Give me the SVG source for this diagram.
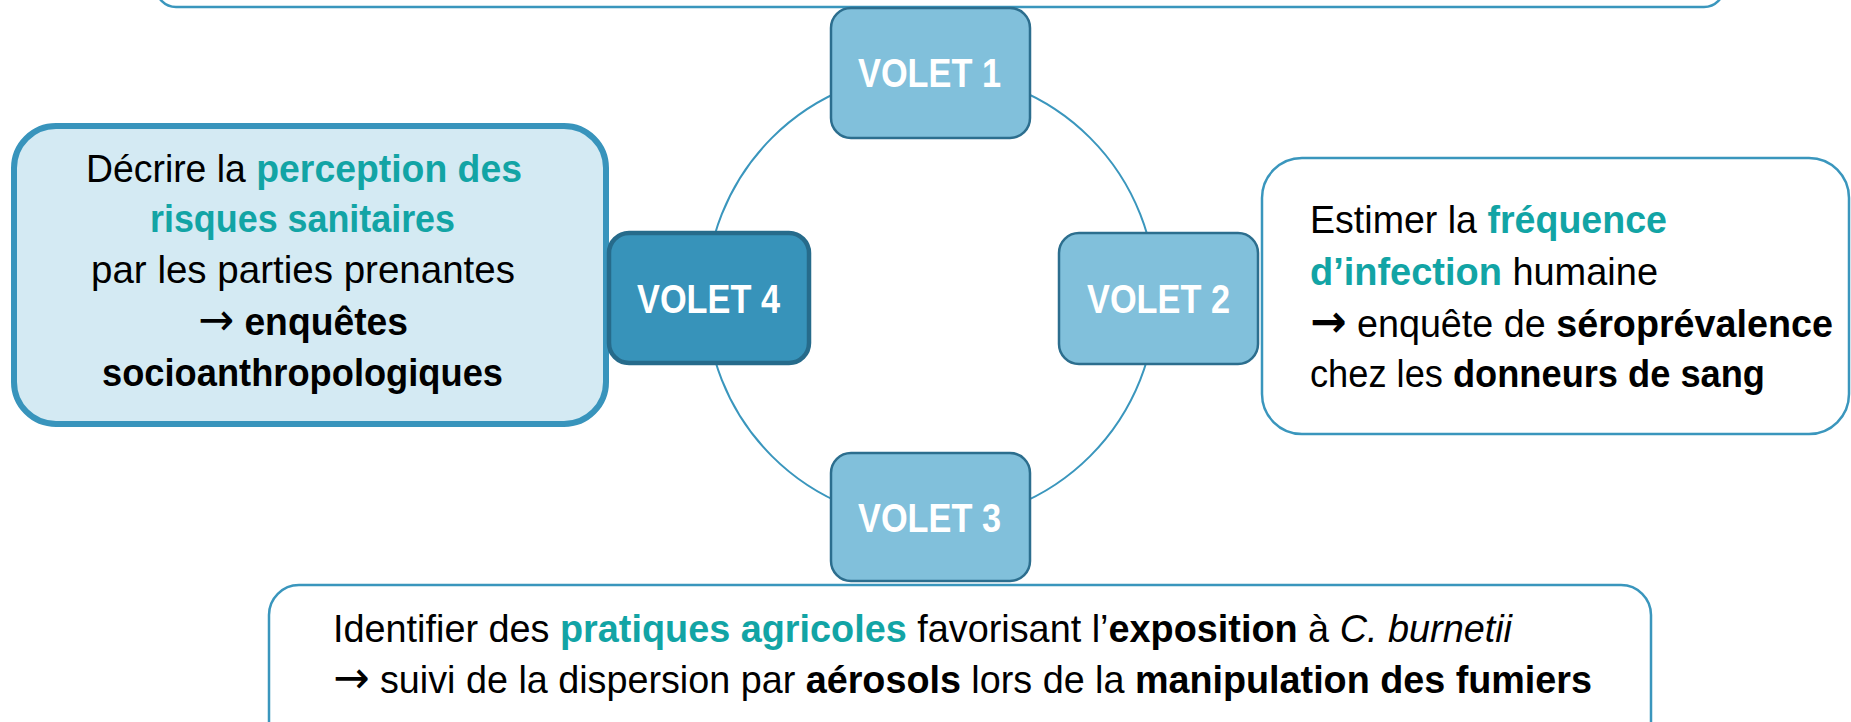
<svg xmlns="http://www.w3.org/2000/svg" width="1851" height="722" viewBox="0 0 1851 722">
<style>
  .t { font-family: "Liberation Sans", Arial, sans-serif; font-size: 39px; fill: #000; }
  .b { font-weight: bold; }
  .teal { fill: #12A4A5; font-weight: bold; }
  .i { font-style: italic; }
  .ar { font-family: "DejaVu Sans", sans-serif; font-size: 45px; }
  .vol { fill: #81C0DB; stroke: #2C6E8E; stroke-width: 2.5; }
  .vlabel { font-family: "Liberation Sans", Arial, sans-serif; font-size: 40px; font-weight: bold; fill: #fff; }
  .panel { fill: #fff; stroke: #3A96BD; stroke-width: 2.5; }
</style>

<g id="connectors">
  <circle cx="931" cy="297" r="225" fill="none" stroke="#3A96BD" stroke-width="2"/>
</g>

<g id="top-box">
  <rect class="panel" x="156" y="-60" width="1568" height="67" rx="20"/>
</g>

<g id="left-box">
  <rect x="14" y="126" width="592" height="298" rx="42" fill="#D4EAF3" stroke="#3894BC" stroke-width="6"/>
  <text class="t" x="86" y="182" textLength="436" lengthAdjust="spacingAndGlyphs">Décrire la <tspan class="teal">perception des</tspan></text>
  <text class="t teal" x="150" y="232" textLength="305" lengthAdjust="spacingAndGlyphs">risques sanitaires</text>
  <text class="t" x="91" y="283" textLength="424" lengthAdjust="spacingAndGlyphs">par les parties prenantes</text>
  <text class="t" x="198" y="335" textLength="210" lengthAdjust="spacingAndGlyphs"><tspan class="ar">→</tspan> <tspan class="b">enquêtes</tspan></text>
  <text class="t b" x="102" y="386" textLength="401" lengthAdjust="spacingAndGlyphs">socioanthropologiques</text>
</g>

<g id="right-box">
  <rect class="panel" x="1262" y="158" width="587" height="276" rx="40"/>
  <text class="t" x="1310" y="233" textLength="357" lengthAdjust="spacingAndGlyphs">Estimer la <tspan class="teal">fréquence</tspan></text>
  <text class="t" x="1310" y="285" textLength="348" lengthAdjust="spacingAndGlyphs"><tspan class="teal">d’infection</tspan> humaine</text>
  <text class="t" x="1310" y="337" textLength="523" lengthAdjust="spacingAndGlyphs"><tspan class="ar b">→</tspan> enquête de <tspan class="b">séroprévalence</tspan></text>
  <text class="t" x="1310" y="387" textLength="455" lengthAdjust="spacingAndGlyphs">chez les <tspan class="b">donneurs de sang</tspan></text>
</g>

<g id="bottom-box">
  <rect class="panel" x="269" y="585" width="1382" height="200" rx="30"/>
  <text class="t" x="333" y="642" textLength="1179" lengthAdjust="spacingAndGlyphs">Identifier des <tspan class="teal">pratiques agricoles</tspan> favorisant l’<tspan class="b">exposition</tspan> à <tspan class="i">C. burnetii</tspan></text>
  <text class="t" x="333" y="693" textLength="1259" lengthAdjust="spacingAndGlyphs"><tspan class="ar">→</tspan> suivi de la dispersion par <tspan class="b">aérosols</tspan> lors de la <tspan class="b">manipulation des fumiers</tspan></text>
</g>

<g id="volet1">
  <rect class="vol" x="831" y="8" width="199" height="130" rx="20"/>
  <text class="vlabel" x="858" y="87" textLength="143" lengthAdjust="spacingAndGlyphs">VOLET 1</text>
</g>

<g id="volet2">
  <rect class="vol" x="1059" y="233" width="199" height="131" rx="20"/>
  <text class="vlabel" x="1087" y="313" textLength="143" lengthAdjust="spacingAndGlyphs">VOLET 2</text>
</g>

<g id="volet3">
  <rect class="vol" x="831" y="453" width="199" height="128" rx="20"/>
  <text class="vlabel" x="858" y="532" textLength="143" lengthAdjust="spacingAndGlyphs">VOLET 3</text>
</g>

<g id="volet4">
  <rect x="609" y="233" width="200" height="130" rx="20" fill="#3793BA" stroke="#266B8B" stroke-width="4.5"/>
  <text class="vlabel" x="637" y="313" textLength="143" lengthAdjust="spacingAndGlyphs">VOLET 4</text>
</g>
</svg>
